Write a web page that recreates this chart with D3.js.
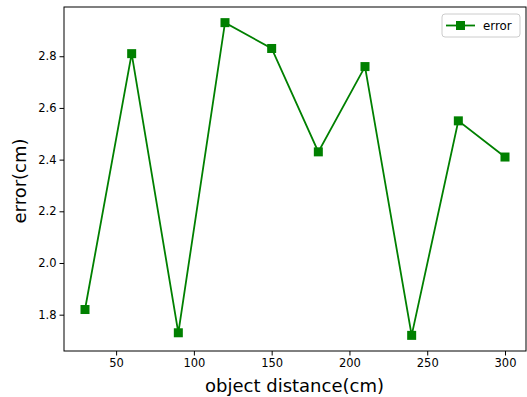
<!DOCTYPE html>
<html><head><meta charset="utf-8">
<script src="https://cdn.jsdelivr.net/npm/d3@7"></script>
<style>body{margin:0;background:#fff}text{font-family:"DejaVu Sans",sans-serif}</style>
</head><body>
<svg id="c" width="527" height="397"></svg>
<script>
const distances = [30, 60, 90, 120, 150, 180, 210, 240, 270, 300];
const errors = [1.82, 2.81, 1.73, 2.93, 2.83, 2.43, 2.76, 1.72, 2.55, 2.41];
const xTicks = [50, 100, 150, 200, 250, 300];
const yTicks = [1.8, 2.0, 2.2, 2.4, 2.6, 2.8];
const seriesName = "error";

const svg = d3.select("#c");
const L = 64, R = 526, T = 7, B = 351;
const green = "#008000";
const xr = d3.extent(distances), yr = d3.extent(errors);
const xm = (xr[1]-xr[0])*0.05, ym = (yr[1]-yr[0])*0.05;
const x = d3.scaleLinear().domain([xr[0]-xm, xr[1]+xm]).range([L, R]);
const y = d3.scaleLinear().domain([yr[0]-ym, yr[1]+ym]).range([B, T]);

const xa = svg.append("g").attr("transform", `translate(0,${B})`)
  .call(d3.axisBottom(x).tickValues(xTicks).tickSize(4.5).tickPadding(3).tickFormat(d3.format("d")));
const ya = svg.append("g").attr("transform", `translate(${L},0)`)
  .call(d3.axisLeft(y).tickValues(yTicks).tickSize(4.5).tickPadding(3).tickFormat(d3.format(".1f")));
[xa, ya].forEach(a => {
  a.select(".domain").remove();
  a.selectAll("line").attr("stroke", "#000").attr("stroke-width", 1);
  a.selectAll("text").attr("fill", "#000").style("font-size", "11.5px").style("font-family", "DejaVu Sans");
});
svg.append("rect").attr("x", L).attr("y", T).attr("width", R-L).attr("height", B-T)
  .attr("fill", "none").attr("stroke", "#000").attr("stroke-width", 1);

const line = d3.line().x((d,i) => x(distances[i])).y(d => y(d));
svg.append("path").datum(errors).attr("d", line).attr("fill", "none")
  .attr("stroke", green).attr("stroke-width", 1.8);
svg.selectAll("rect.m").data(errors).enter().append("rect").attr("class", "m")
  .attr("x", (d,i) => x(distances[i]) - 4.5).attr("y", d => y(d) - 4.5)
  .attr("width", 9).attr("height", 9).attr("fill", green);

svg.append("text").attr("x", (L+R)/2 - 0.5).attr("y", 392).attr("text-anchor", "middle")
  .style("font-size", "18px").attr("fill", "#000").text("object distance(cm)");
svg.append("text").attr("transform", `translate(26,${(T+B)/2 + 2}) rotate(-90)`).attr("text-anchor", "middle")
  .style("font-size", "18px").attr("fill", "#000").text("error(cm)");

const lg = svg.append("g");
lg.append("rect").attr("x", 442).attr("y", 14).attr("width", 78).attr("height", 23).attr("rx", 3)
  .attr("fill", "#fff").attr("fill-opacity", 0.8).attr("stroke", "#ccc").attr("stroke-width", 1);
lg.append("line").attr("x1", 446).attr("x2", 475).attr("y1", 25.5).attr("y2", 25.5)
  .attr("stroke", green).attr("stroke-width", 1.8);
lg.append("rect").attr("x", 456).attr("y", 21).attr("width", 9).attr("height", 9).attr("fill", green);
lg.append("text").attr("x", 483).attr("y", 29.5).style("font-size", "11.8px").attr("fill", "#000").text(seriesName);
</script>
</body></html>
